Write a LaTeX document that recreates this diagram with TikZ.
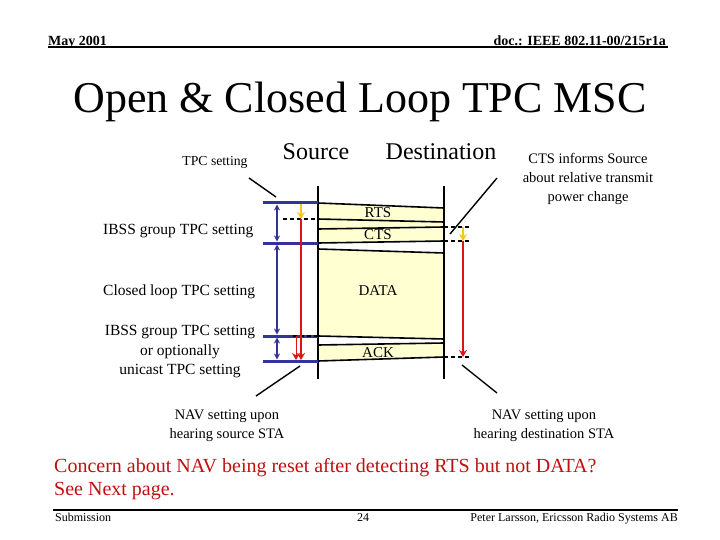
\documentclass[tikz,border=0pt]{standalone}
\usepackage{fontspec}
\setmainfont{Liberation Serif}
\usetikzlibrary{arrows.meta, positioning, calc}
\definecolor{tpcblue}{RGB}{51,51,153}
\definecolor{navred}{RGB}{220,20,20}
\definecolor{infogold}{RGB}{250,200,20}
\definecolor{framefill}{RGB}{255,255,210}
\definecolor{notered}{RGB}{192,16,16}

\begin{document}
\begin{tikzpicture}[
    x=1pt, y=-1pt,
    every node/.style={inner sep=0pt},
    label node/.style={font=\fontsize{15.5}{19.5}\selectfont, align=center},
    note node/.style={font=\fontsize{14.5}{19}\selectfont, align=center},
    msg node/.style={font=\fontsize{15}{18}\selectfont, anchor=base},
    entity node/.style={font=\fontsize{24}{28}\selectfont, anchor=base},
    lifeline/.style={line width=1.8pt},
    frame line/.style={line width=1.6pt},
    tpc bar/.style={tpcblue, line width=3pt},
    tpc arrow/.style={tpcblue, line width=1.3pt, {Stealth[length=6pt,width=6pt]}-{Stealth[length=6pt,width=6pt]}},
    nav arrow/.style={navred, line width=1.8pt, -{Stealth[length=7pt,width=8pt]}},
    info arrow/.style={infogold, line width=1.8pt, -{Stealth[length=7pt,width=8pt]}},
    hint/.style={line width=1.3pt, dash pattern=on 4pt off 3pt},
    pointer/.style={line width=1.4pt}
]
% Page
\fill[white] (0,0) rectangle (720,540);

% Header and footer
\node[font=\fontsize{14}{16}\selectfont\bfseries, anchor=base west] (month) at (48,45.5) {May 2001};
\node[font=\fontsize{14}{16}\selectfont\bfseries, anchor=base east] (doc) at (666,45.5) {doc.: IEEE 802.11-00/215r1a};
\coordinate (h0) at (48,47.5);
\coordinate (h1) at (668,47.5);
\draw[line width=2pt] (h0) -- (h1);
\node[font=\fontsize{44}{48}\selectfont, anchor=base] (title) at (360,113) {Open \& Closed Loop TPC MSC};
\coordinate (f0) at (53,510);
\coordinate (f1) at (678,510);
\draw[line width=2pt] (f0) -- (f1);
\node[font=\fontsize{12}{14}\selectfont, anchor=base west] (sub) at (55,521) {Submission};
\node[font=\fontsize{12}{14}\selectfont, anchor=base] (page) at (363,521) {24};
\node[font=\fontsize{12}{14}\selectfont, anchor=base east] (author) at (678,521) {Peter Larsson, Ericsson Radio Systems AB};

% Lifelines and frame corners
\coordinate (S0) at (318,186);
\coordinate (S1) at (318,379);
\coordinate (D0) at (444,186);
\coordinate (D1) at (444,379);
\coordinate (rts1) at (318,203);
\coordinate (rts2) at (444,208);
\coordinate (rts3) at (444,222);
\coordinate (rts4) at (318,219);
\coordinate (cts1) at (444,227);
\coordinate (cts2) at (318,229);
\coordinate (cts3) at (318,243);
\coordinate (cts4) at (444,241);
\coordinate (data1) at (318,249);
\coordinate (data2) at (444,253);
\coordinate (data3) at (444,339);
\coordinate (data4) at (318,336);
\coordinate (ack1) at (444,343);
\coordinate (ack2) at (318,345);
\coordinate (ack3) at (318,361);
\coordinate (ack4) at (444,357);

% Frames
\fill[framefill] (rts1) -- (rts2) -- (cts4) -- (cts3) -- cycle;
\fill[framefill] (data1) -- (data2) -- (data3) -- (data4) -- cycle;
\fill[framefill] (ack2) -- (ack1) -- (ack4) -- (ack3) -- cycle;
\draw[frame line] (rts1) -- (rts2);
\draw[frame line] (rts4) -- (rts3);
\draw[frame line] (cts1) -- (cts2);
\draw[frame line] (cts4) -- (cts3);
\draw[frame line] (data1) -- (data2);
\draw[frame line] (data4) -- (data3);
\draw[frame line] (ack1) -- (ack2);
\draw[frame line] (ack4) -- (ack3);
\draw[lifeline] (S0) -- (S1);
\draw[lifeline] (D0) -- (D1);

\node[msg node] (rts) at (378,218) {RTS};
\node[msg node] (cts) at (378,240) {CTS};
\node[msg node] (data) at (378,295) {DATA};
\node[msg node] (ack) at (378,357) {ACK};

\node[entity node] (source) at (316,160) {Source};
\node[entity node] (dest) at (441,160) {Destination};

% TPC settings at the source
\coordinate (b1) at (263,203);
\coordinate (b2) at (263,243);
\coordinate (b3) at (263,336);
\coordinate (b4) at (263,361);
\draw[tpc bar] (b1) -- (rts1);
\draw[tpc bar] (b2) -- (cts3);
\draw[tpc bar] (b3) -- (data4);
\draw[tpc bar] (b4) -- (ack3);
\coordinate (t1) at (277,204.5);
\coordinate (t2) at (277,241.5);
\coordinate (t2b) at (277,244.5);
\coordinate (t3) at (277,334.5);
\coordinate (t3b) at (277,337.5);
\coordinate (t4) at (277,359.5);
\draw[tpc arrow] (t1) -- (t2);
\draw[tpc arrow] (t2b) -- (t3);
\draw[tpc arrow] (t3b) -- (t4);

% NAV at source side
\coordinate (d1) at (283,219);
\coordinate (d2) at (293,336);
\draw[hint] (d1) -- (rts4);
\draw[hint] (d2) -- (data4);
\coordinate (n1) at (301,204);
\coordinate (n2) at (301,219);
\coordinate (n3) at (301,360);
\coordinate (n4) at (296,336);
\coordinate (n5) at (296,360);
\draw[info arrow] (n1) -- (n2);
\draw[nav arrow] (n2) -- (n3);
\draw[nav arrow, line width=1pt] (n4) -- (n5);

% NAV at destination side
\coordinate (e1) at (470,227);
\coordinate (e2) at (470,241);
\coordinate (e3) at (470,357);
\draw[hint] (cts1) -- (e1);
\draw[hint] (cts4) -- (e2);
\draw[hint] (ack4) -- (e3);
\coordinate (m1) at (463,227);
\coordinate (m2) at (463,241);
\coordinate (m3) at (463,357);
\draw[info arrow] (m1) -- (m2);
\draw[nav arrow] (m2) -- (m3);

% Labels
\node[font=\fontsize{13.7}{16}\selectfont, anchor=base] (tpc) at (215,165.5) {TPC setting};
\node[label node, anchor=base west] (ibss) at (103,235) {IBSS group TPC setting};
\node[label node, anchor=base west] (closed) at (103,295) {Closed loop TPC setting};
\node[label node] (unicast) at (180,352) {IBSS group TPC setting\\or optionally\\unicast TPC setting};
\node[note node] (informs) at (588,178.5) {CTS informs Source\\about relative transmit\\power change};
\node[note node] (navsrc) at (227,426) {NAV setting upon\\hearing source STA};
\node[note node] (navdst) at (544,426) {NAV setting upon\\hearing destination STA};

% Pointers
\coordinate (p1) at (249,178);
\coordinate (p2) at (276,197);
\coordinate (p3) at (497,178);
\coordinate (p4) at (450,234);
\coordinate (p5) at (256,396);
\coordinate (p6) at (300,366);
\coordinate (p7) at (462,365);
\coordinate (p8) at (497,393);
\draw[pointer] (p1) -- (p2);
\draw[pointer] (p3) -- (p4);
\draw[pointer] (p5) -- (p6);
\draw[pointer] (p7) -- (p8);

% Remark
\node[font=\fontsize{20}{23}\selectfont, text=notered, align=left, anchor=west] (remark) at (54,479.5) {Concern about NAV being reset after detecting RTS but not DATA?\\See Next page.};
\end{tikzpicture}
\end{document}
